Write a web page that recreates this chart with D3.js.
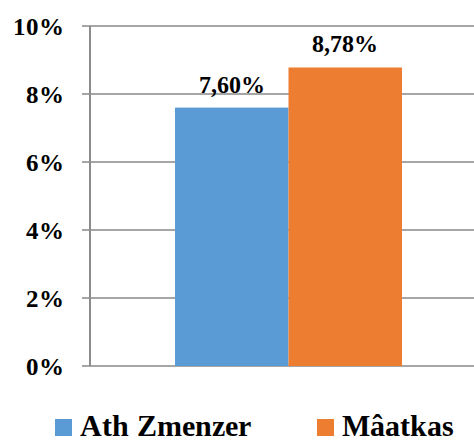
<!DOCTYPE html>
<html><head><meta charset="utf-8">
<script src="https://cdn.jsdelivr.net/npm/d3@7"></script>
<style>
@font-face{font-family:"ChartSerif";src:local("Liberation Serif Bold"),local("LiberationSerif-Bold"),local("Tinos Bold");font-weight:bold;}
@font-face{font-family:"ChartSerif";src:local("Liberation Serif"),local("LiberationSerif");font-weight:normal;}
</style>
</head><body style="margin:0">
<script>
const categories = ["Ath Zmenzer", "Mâatkas"];
const values = [7.60, 8.78];
const labels = ["7,60%", "8,78%"];
const colors = ["#5b9bd5", "#ed7d31"];
const yTicks = [0, 2, 4, 6, 8, 10];

const W = 474, H = 440;
const svg = d3.select("body").append("svg").attr("width", W).attr("height", H).style("display", "block");

const y = d3.scaleLinear().domain([0, 10]).range([366, 26]);
const x = d3.scaleBand().domain(categories).range([175, 402]).padding(0);

function serif(sel, size) {
  return sel.style("font-family", '"ChartSerif", "Liberation Serif", "Tinos", serif')
    .style("font-weight", "bold").style("font-size", size + "px");
}

// gridlines
svg.append("g").selectAll("line").data(yTicks).join("line")
  .attr("x1", 82).attr("x2", 474)
  .attr("y1", d => y(d)).attr("y2", d => y(d))
  .attr("stroke", "#a6a6a6").attr("stroke-width", 2);

// bars
svg.append("g").selectAll("rect").data(values).join("rect")
  .attr("x", (d, i) => x(categories[i]))
  .attr("width", x.bandwidth())
  .attr("y", d => y(d))
  .attr("height", d => y(0) - y(d))
  .attr("fill", (d, i) => colors[i]);

// y axis line
svg.append("line").attr("x1", 90).attr("x2", 90).attr("y1", y(10)).attr("y2", y(0))
  .attr("stroke", "#8c8c8c").attr("stroke-width", 2);

// tick labels
serif(svg.append("g").selectAll("text").data(yTicks).join("text"), 25)
  .attr("x", 64).attr("y", d => y(d) + 9)
  .attr("text-anchor", "end")
  .text(d => d + "%");

// data labels
serif(svg.append("g").selectAll("text").data(values).join("text"), 24)
  .attr("x", (d, i) => x(categories[i]) + x.bandwidth() / 2)
  .attr("y", d => y(d) - 15)
  .attr("text-anchor", "middle")
  .text((d, i) => labels[i]);

// legend
const legX = [55, 317];
const leg = svg.append("g").selectAll("g").data(categories).join("g")
  .attr("transform", (d, i) => `translate(${legX[i]},419)`);
leg.append("rect").attr("width", 17).attr("height", 17).attr("fill", (d, i) => colors[i]);
serif(leg.append("text"), 30).attr("x", 25).attr("y", 17).text(d => d);
</script>
</body></html>
